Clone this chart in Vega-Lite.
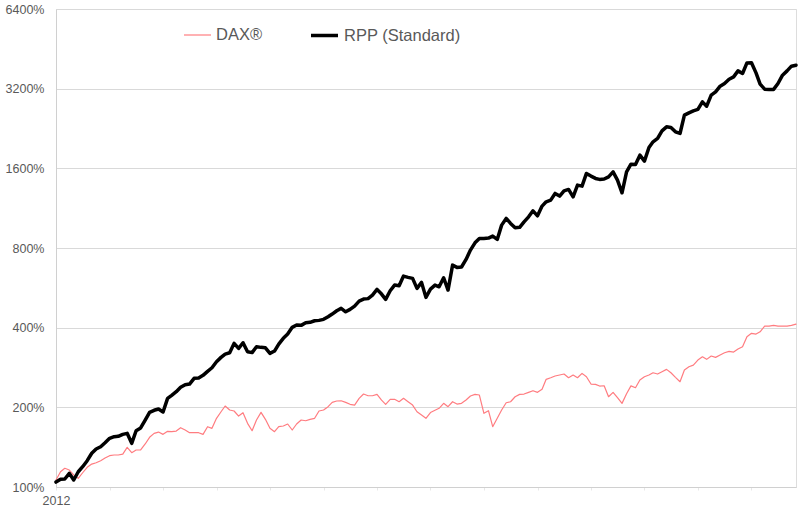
{
  "$schema": "https://vega.github.io/schema/vega-lite/v6.json",
  "width": 740,
  "height": 478,
  "autosize": "none",
  "padding": {"left": 56, "top": 9, "right": 4, "bottom": 25},
  "background": "white",
  "data": {
    "values": [
      {"d": "2012-01-01", "DAX": 106.3, "RPP": 104.4},
      {"d": "2012-02-01", "DAX": 114.2, "RPP": 106.9},
      {"d": "2012-03-01", "DAX": 117.7, "RPP": 107.2},
      {"d": "2012-04-01", "DAX": 115.9, "RPP": 112.6},
      {"d": "2012-05-01", "DAX": 111.0, "RPP": 106.3},
      {"d": "2012-06-01", "DAX": 107.9, "RPP": 114.2},
      {"d": "2012-07-01", "DAX": 113.2, "RPP": 119.3},
      {"d": "2012-08-01", "DAX": 118.7, "RPP": 125.7},
      {"d": "2012-09-01", "DAX": 122.1, "RPP": 134.1},
      {"d": "2012-10-01", "DAX": 123.5, "RPP": 139.2},
      {"d": "2012-11-01", "DAX": 125.7, "RPP": 142.0},
      {"d": "2012-12-01", "DAX": 128.7, "RPP": 147.0},
      {"d": "2013-01-01", "DAX": 131.3, "RPP": 152.7},
      {"d": "2013-02-01", "DAX": 132.1, "RPP": 154.9},
      {"d": "2013-03-01", "DAX": 132.1, "RPP": 155.4},
      {"d": "2013-04-01", "DAX": 133.2, "RPP": 158.1},
      {"d": "2013-05-01", "DAX": 141.2, "RPP": 159.5},
      {"d": "2013-06-01", "DAX": 134.8, "RPP": 146.2},
      {"d": "2013-07-01", "DAX": 138.0, "RPP": 163.2},
      {"d": "2013-08-01", "DAX": 138.0, "RPP": 167.1},
      {"d": "2013-09-01", "DAX": 145.4, "RPP": 179.1},
      {"d": "2013-10-01", "DAX": 154.1, "RPP": 191.5},
      {"d": "2013-11-01", "DAX": 159.5, "RPP": 194.9},
      {"d": "2013-12-01", "DAX": 161.3, "RPP": 197.1},
      {"d": "2014-01-01", "DAX": 158.1, "RPP": 192.0},
      {"d": "2014-02-01", "DAX": 162.3, "RPP": 216.3},
      {"d": "2014-03-01", "DAX": 161.8, "RPP": 222.0},
      {"d": "2014-04-01", "DAX": 162.7, "RPP": 229.1},
      {"d": "2014-05-01", "DAX": 167.5, "RPP": 238.0},
      {"d": "2014-06-01", "DAX": 164.2, "RPP": 243.4},
      {"d": "2014-07-01", "DAX": 160.4, "RPP": 244.9},
      {"d": "2014-08-01", "DAX": 160.4, "RPP": 257.4},
      {"d": "2014-09-01", "DAX": 160.4, "RPP": 258.1},
      {"d": "2014-10-01", "DAX": 158.1, "RPP": 264.2},
      {"d": "2014-11-01", "DAX": 169.0, "RPP": 273.5},
      {"d": "2014-12-01", "DAX": 166.6, "RPP": 282.2},
      {"d": "2015-01-01", "DAX": 181.8, "RPP": 297.3},
      {"d": "2015-02-01", "DAX": 192.5, "RPP": 308.9},
      {"d": "2015-03-01", "DAX": 202.3, "RPP": 317.9},
      {"d": "2015-04-01", "DAX": 195.4, "RPP": 321.6},
      {"d": "2015-05-01", "DAX": 193.7, "RPP": 348.9},
      {"d": "2015-06-01", "DAX": 185.4, "RPP": 334.1},
      {"d": "2015-07-01", "DAX": 190.8, "RPP": 350.8},
      {"d": "2015-08-01", "DAX": 174.0, "RPP": 324.4},
      {"d": "2015-09-01", "DAX": 163.2, "RPP": 322.0},
      {"d": "2015-10-01", "DAX": 179.1, "RPP": 338.8},
      {"d": "2015-11-01", "DAX": 191.5, "RPP": 337.0},
      {"d": "2015-12-01", "DAX": 180.2, "RPP": 335.8},
      {"d": "2016-01-01", "DAX": 166.6, "RPP": 319.9},
      {"d": "2016-02-01", "DAX": 161.8, "RPP": 326.4},
      {"d": "2016-03-01", "DAX": 169.0, "RPP": 346.9},
      {"d": "2016-04-01", "DAX": 170.0, "RPP": 364.5},
      {"d": "2016-05-01", "DAX": 173.0, "RPP": 378.4},
      {"d": "2016-06-01", "DAX": 164.2, "RPP": 401.1},
      {"d": "2016-07-01", "DAX": 173.0, "RPP": 409.2},
      {"d": "2016-08-01", "DAX": 179.1, "RPP": 408.1},
      {"d": "2016-09-01", "DAX": 178.0, "RPP": 417.4},
      {"d": "2016-10-01", "DAX": 180.2, "RPP": 418.9},
      {"d": "2016-11-01", "DAX": 181.8, "RPP": 424.8},
      {"d": "2016-12-01", "DAX": 193.7, "RPP": 426.2},
      {"d": "2017-01-01", "DAX": 195.4, "RPP": 430.0},
      {"d": "2017-02-01", "DAX": 201.1, "RPP": 439.8},
      {"d": "2017-03-01", "DAX": 208.9, "RPP": 450.2},
      {"d": "2017-04-01", "DAX": 211.3, "RPP": 463.4},
      {"d": "2017-05-01", "DAX": 211.8, "RPP": 473.1},
      {"d": "2017-06-01", "DAX": 208.9, "RPP": 459.3},
      {"d": "2017-07-01", "DAX": 205.3, "RPP": 469.0},
      {"d": "2017-08-01", "DAX": 204.0, "RPP": 482.7},
      {"d": "2017-09-01", "DAX": 216.3, "RPP": 504.1},
      {"d": "2017-10-01", "DAX": 224.5, "RPP": 513.0},
      {"d": "2017-11-01", "DAX": 221.2, "RPP": 515.0},
      {"d": "2017-12-01", "DAX": 221.2, "RPP": 531.1},
      {"d": "2018-01-01", "DAX": 223.9, "RPP": 558.1},
      {"d": "2018-02-01", "DAX": 213.1, "RPP": 535.8},
      {"d": "2018-03-01", "DAX": 205.3, "RPP": 511.6},
      {"d": "2018-04-01", "DAX": 214.4, "RPP": 551.4},
      {"d": "2018-05-01", "DAX": 214.4, "RPP": 579.4},
      {"d": "2018-06-01", "DAX": 210.0, "RPP": 575.9},
      {"d": "2018-07-01", "DAX": 216.3, "RPP": 626.6},
      {"d": "2018-08-01", "DAX": 210.0, "RPP": 619.6},
      {"d": "2018-09-01", "DAX": 204.0, "RPP": 614.1},
      {"d": "2018-10-01", "DAX": 192.5, "RPP": 563.0},
      {"d": "2018-11-01", "DAX": 187.1, "RPP": 593.2},
      {"d": "2018-12-01", "DAX": 181.8, "RPP": 520.6},
      {"d": "2019-01-01", "DAX": 191.2, "RPP": 559.6},
      {"d": "2019-02-01", "DAX": 194.9, "RPP": 579.4},
      {"d": "2019-03-01", "DAX": 198.3, "RPP": 570.9},
      {"d": "2019-04-01", "DAX": 207.1, "RPP": 617.4},
      {"d": "2019-05-01", "DAX": 201.1, "RPP": 554.8},
      {"d": "2019-06-01", "DAX": 210.0, "RPP": 689.4},
      {"d": "2019-07-01", "DAX": 205.8, "RPP": 675.8},
      {"d": "2019-08-01", "DAX": 207.1, "RPP": 678.0},
      {"d": "2019-09-01", "DAX": 213.1, "RPP": 724.5},
      {"d": "2019-10-01", "DAX": 220.7, "RPP": 785.5},
      {"d": "2019-11-01", "DAX": 223.9, "RPP": 837.0},
      {"d": "2019-12-01", "DAX": 222.6, "RPP": 869.7},
      {"d": "2020-01-01", "DAX": 189.8, "RPP": 869.7},
      {"d": "2020-02-01", "DAX": 194.2, "RPP": 872.0},
      {"d": "2020-03-01", "DAX": 169.0, "RPP": 887.2},
      {"d": "2020-04-01", "DAX": 181.8, "RPP": 862.1},
      {"d": "2020-05-01", "DAX": 195.4, "RPP": 976.2},
      {"d": "2020-06-01", "DAX": 208.2, "RPP": 1034.9},
      {"d": "2020-07-01", "DAX": 210.0, "RPP": 990.8},
      {"d": "2020-08-01", "DAX": 219.3, "RPP": 953.6},
      {"d": "2020-09-01", "DAX": 223.9, "RPP": 958.0},
      {"d": "2020-10-01", "DAX": 224.5, "RPP": 1004.7},
      {"d": "2020-11-01", "DAX": 227.9, "RPP": 1049.4},
      {"d": "2020-12-01", "DAX": 231.1, "RPP": 1105.6},
      {"d": "2021-01-01", "DAX": 227.9, "RPP": 1058.6},
      {"d": "2021-02-01", "DAX": 233.9, "RPP": 1151.8},
      {"d": "2021-03-01", "DAX": 255.2, "RPP": 1195.6},
      {"d": "2021-04-01", "DAX": 258.7, "RPP": 1213.4},
      {"d": "2021-05-01", "DAX": 262.6, "RPP": 1286.3},
      {"d": "2021-06-01", "DAX": 264.9, "RPP": 1256.4},
      {"d": "2021-07-01", "DAX": 267.2, "RPP": 1315.7},
      {"d": "2021-08-01", "DAX": 258.7, "RPP": 1331.8},
      {"d": "2021-09-01", "DAX": 264.9, "RPP": 1248.8},
      {"d": "2021-10-01", "DAX": 258.7, "RPP": 1382.6},
      {"d": "2021-11-01", "DAX": 268.8, "RPP": 1370.6},
      {"d": "2021-12-01", "DAX": 261.0, "RPP": 1530.6},
      {"d": "2022-01-01", "DAX": 244.9, "RPP": 1495.2},
      {"d": "2022-02-01", "DAX": 244.3, "RPP": 1465.5},
      {"d": "2022-03-01", "DAX": 240.7, "RPP": 1452.9},
      {"d": "2022-04-01", "DAX": 241.3, "RPP": 1458.0},
      {"d": "2022-05-01", "DAX": 219.3, "RPP": 1486.1},
      {"d": "2022-06-01", "DAX": 227.9, "RPP": 1552.2},
      {"d": "2022-07-01", "DAX": 217.4, "RPP": 1444.0},
      {"d": "2022-08-01", "DAX": 207.0, "RPP": 1293.0},
      {"d": "2022-09-01", "DAX": 225.0, "RPP": 1552.2},
      {"d": "2022-10-01", "DAX": 241.0, "RPP": 1659.6},
      {"d": "2022-11-01", "DAX": 237.2, "RPP": 1655.3},
      {"d": "2022-12-01", "DAX": 253.6, "RPP": 1794.7},
      {"d": "2023-01-01", "DAX": 261.0, "RPP": 1703.4},
      {"d": "2023-02-01", "DAX": 264.9, "RPP": 1919.0},
      {"d": "2023-03-01", "DAX": 270.2, "RPP": 2015.0},
      {"d": "2023-04-01", "DAX": 267.2, "RPP": 2075.0},
      {"d": "2023-05-01", "DAX": 272.6, "RPP": 2217.0},
      {"d": "2023-06-01", "DAX": 278.3, "RPP": 2296.0},
      {"d": "2023-07-01", "DAX": 270.2, "RPP": 2284.0},
      {"d": "2023-08-01", "DAX": 259.6, "RPP": 2198.0},
      {"d": "2023-09-01", "DAX": 249.9, "RPP": 2167.0},
      {"d": "2023-10-01", "DAX": 276.6, "RPP": 2542.0},
      {"d": "2023-11-01", "DAX": 284.7, "RPP": 2593.0},
      {"d": "2023-12-01", "DAX": 288.9, "RPP": 2638.0},
      {"d": "2024-01-01", "DAX": 301.8, "RPP": 2671.0},
      {"d": "2024-02-01", "DAX": 310.6, "RPP": 2853.0},
      {"d": "2024-03-01", "DAX": 303.6, "RPP": 2748.0},
      {"d": "2024-04-01", "DAX": 312.5, "RPP": 3024.0},
      {"d": "2024-05-01", "DAX": 308.9, "RPP": 3112.0},
      {"d": "2024-06-01", "DAX": 315.2, "RPP": 3270.0},
      {"d": "2024-07-01", "DAX": 321.6, "RPP": 3348.0},
      {"d": "2024-08-01", "DAX": 325.5, "RPP": 3475.0},
      {"d": "2024-09-01", "DAX": 323.5, "RPP": 3546.0},
      {"d": "2024-10-01", "DAX": 332.1, "RPP": 3736.0},
      {"d": "2024-11-01", "DAX": 338.8, "RPP": 3652.0},
      {"d": "2024-12-01", "DAX": 369.6, "RPP": 4005.0},
      {"d": "2025-01-01", "DAX": 380.7, "RPP": 4010.0},
      {"d": "2025-02-01", "DAX": 378.4, "RPP": 3672.0},
      {"d": "2025-03-01", "DAX": 386.0, "RPP": 3327.0},
      {"d": "2025-04-01", "DAX": 405.6, "RPP": 3186.0},
      {"d": "2025-05-01", "DAX": 405.6, "RPP": 3178.0},
      {"d": "2025-06-01", "DAX": 408.1, "RPP": 3180.0},
      {"d": "2025-07-01", "DAX": 405.6, "RPP": 3348.0},
      {"d": "2025-08-01", "DAX": 405.6, "RPP": 3599.0},
      {"d": "2025-09-01", "DAX": 405.6, "RPP": 3736.0},
      {"d": "2025-10-01", "DAX": 408.1, "RPP": 3892.0},
      {"d": "2025-11-01", "DAX": 412.7, "RPP": 3926.0}
    ]
  },
  "transform": [
    {"fold": ["DAX", "RPP"], "as": ["series", "value"]}
  ],
  "mark": {"type": "line", "strokeJoin": "round", "strokeCap": "round"},
  "encoding": {
    "x": {
      "field": "d",
      "type": "temporal",
      "scale": {"type": "utc", "nice": false},
      "axis": {
        "title": null,
        "grid": false,
        "tickCount": {"interval": "year", "step": 1},
        "labelExpr": "utcyear(datum.value) == 2012 ? '2012' : ''",
        "labelFont": "Liberation Sans",
        "labelFontSize": 12.5,
        "labelColor": "#595959",
        "labelPadding": 4,
        "labelFlush": false,
        "labelOverlap": false,
        "tickSize": 3,
        "tickColor": "#e8e8e8",
        "domainColor": "#d0d0d0"
      }
    },
    "y": {
      "field": "value",
      "type": "quantitative",
      "scale": {"type": "log", "domain": [100, 6400], "nice": false},
      "axis": {
        "title": null,
        "values": [100, 200, 400, 800, 1600, 3200, 6400],
        "labelExpr": "datum.value + '%'",
        "labelFont": "Liberation Sans",
        "labelFontSize": 12.5,
        "labelColor": "#595959",
        "labelPadding": 12,
        "tickSize": 0,
        "grid": true,
        "gridColor": "#d9d9d9",
        "domainColor": "#d0d0d0"
      }
    },
    "color": {
      "field": "series",
      "type": "nominal",
      "scale": {"domain": ["DAX", "RPP"], "range": ["#ff7c80", "#000000"]},
      "legend": {
        "title": null,
        "orient": "none",
        "legendX": 127,
        "legendY": 11,
        "direction": "horizontal",
        "symbolType": "stroke",
        "symbolSize": 729,
        "labelExpr": "datum.label == 'DAX' ? 'DAX®' : 'RPP (Standard)'",
        "labelFont": "Liberation Sans",
        "labelFontSize": 16.5,
        "labelColor": "#595959",
        "labelOffset": 4,
        "columnPadding": 41
      }
    },
    "strokeWidth": {
      "field": "series",
      "type": "nominal",
      "scale": {"domain": ["DAX", "RPP"], "range": [1.2, 3.5]},
      "legend": {
        "title": null,
        "orient": "none",
        "legendX": 127,
        "legendY": 11,
        "direction": "horizontal",
        "symbolType": "stroke",
        "symbolSize": 729,
        "labelExpr": "datum.label == 'DAX' ? 'DAX®' : 'RPP (Standard)'",
        "labelFont": "Liberation Sans",
        "labelFontSize": 16.5,
        "labelColor": "#595959",
        "labelOffset": 4,
        "columnPadding": 41
      }
    }
  }
}
